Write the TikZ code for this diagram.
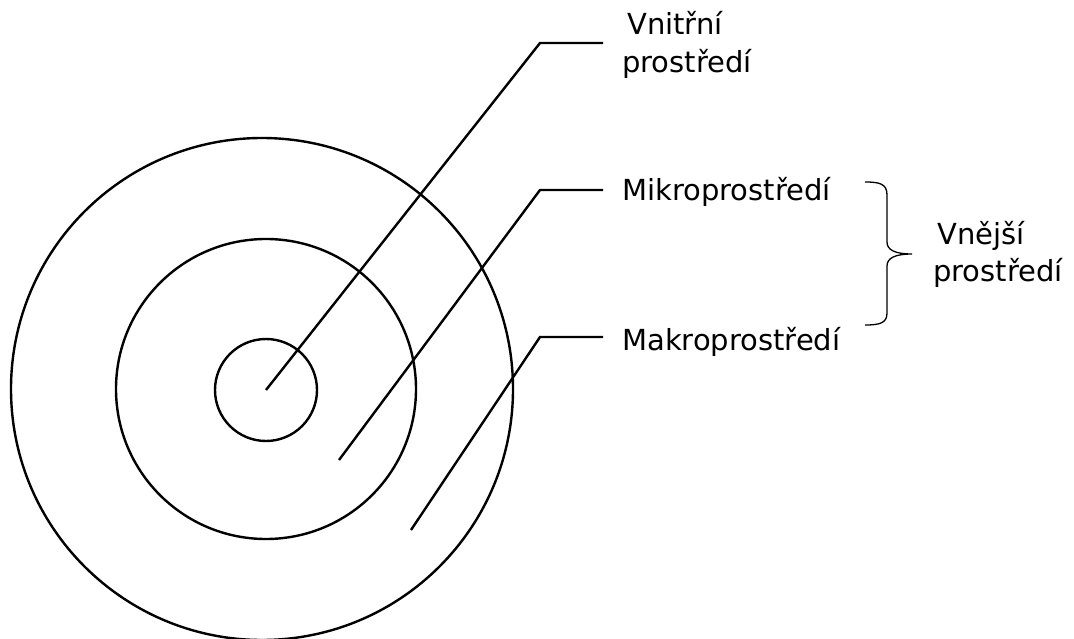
\documentclass[tikz,border=0pt]{standalone}
\usepackage{fontspec}
\setmainfont{DejaVu Sans}
\begin{document}
\begin{tikzpicture}[x=1pt,y=-1pt,
		ring/.style={line width=2.4pt},
		lead/.style={line width=2.4pt},
		lbl/.style={anchor=base west,inner sep=0pt,align=left,font=\fontsize{29}{38}\selectfont}]
	\useasboundingbox (0,0) rectangle (1074,639);
	\draw[ring] (262,389) circle (251);
	\draw[ring] (266,389) circle (150);
	\draw[ring] (266,390) circle (51);
	% labels
	\node[lbl] (vnitrni) at (622,73) {\hspace{5pt}Vnitřní\\prostředí};
	\node[lbl] (mikro) at (622,201) {Mikroprostředí};
	\node[lbl] (makro) at (622,350) {Makroprostředí};
	\node[lbl] (vnejsi) at (933,282) {\hspace{4pt}Vnější\\prostředí};
	% leader lines
	\coordinate (a0) at (266,390); \coordinate (a1) at (540,43); \coordinate (a2) at (603,43);
	\coordinate (b0) at (339,460); \coordinate (b1) at (540,190); \coordinate (b2) at (603,190);
	\coordinate (c0) at (411,530); \coordinate (c1) at (540,337); \coordinate (c2) at (603,337);
	\draw[lead] (a0)--(a1)--(a2);
	\draw[lead] (b0)--(b1)--(b2);
	\draw[lead] (c0)--(c1)--(c2);
	% brace
	\draw[line width=1.3pt] (865,182) .. controls (880,182) and (887,184) .. (887,195) -- (887,242)
		.. controls (887,250) and (895,254) .. (912,254)
		.. controls (895,254) and (887,258) .. (887,266) -- (887,313)
		.. controls (887,323) and (880,325) .. (865,325);
\end{tikzpicture}
\end{document}
